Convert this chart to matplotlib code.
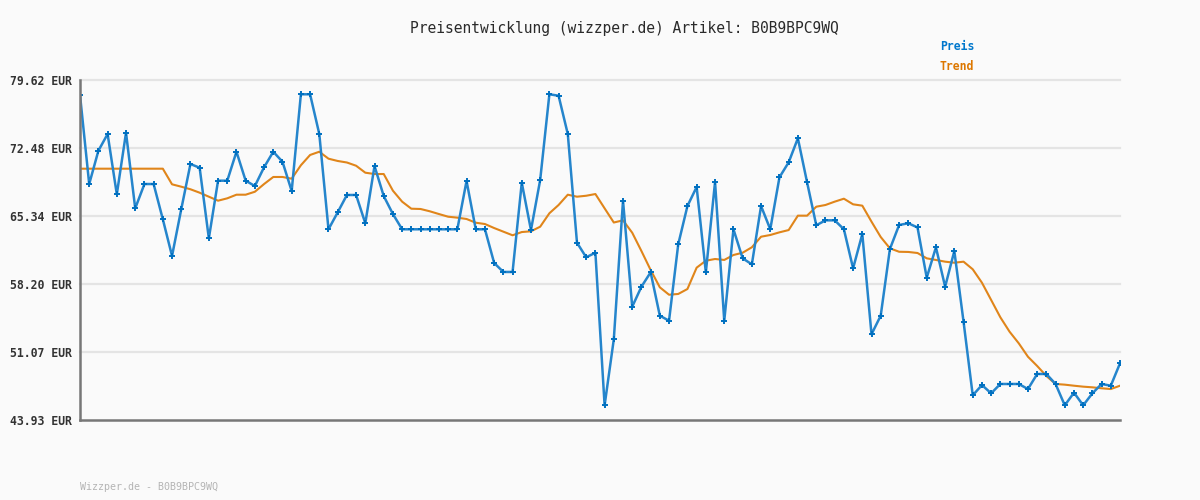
import matplotlib
matplotlib.use("Agg")
import matplotlib.pyplot as plt

title = "Preisentwicklung (wizzper.de) Artikel: B0B9BPC9WQ"
footer = "Wizzper.de - B0B9BPC9WQ"
series_names = ["Preis", "Trend"]
y_ticks = [43.93, 51.07, 58.20, 65.34, 72.48, 79.62]
y_tick_labels = ["43.93 EUR", "51.07 EUR", "58.20 EUR", "65.34 EUR", "72.48 EUR", "79.62 EUR"]

preis = [
    78.05, 68.70, 72.20, 73.95, 67.62, 74.09, 66.15, 68.70, 68.70, 65.00,
    61.15, 66.05, 70.80, 70.41, 63.00, 69.05, 69.05, 72.09, 69.05, 68.49,
    70.46, 72.09, 71.04, 67.97, 78.12, 78.12, 73.95, 63.95, 65.73, 67.55,
    67.55, 64.58, 70.59, 67.44, 65.55, 63.95, 63.95, 63.95, 63.95, 63.95,
    63.95, 63.95, 69.02, 63.95, 63.95, 60.41, 59.47, 59.47, 68.84, 63.87,
    69.12, 78.12, 77.97, 73.95, 62.54, 61.01, 61.49, 45.47, 52.40, 66.95,
    55.82, 57.92, 59.43, 54.88, 54.35, 62.37, 66.39, 68.39, 59.43, 68.91,
    54.35, 63.95, 60.90, 60.27, 66.39, 63.95, 69.41, 70.98, 73.50, 68.88,
    64.37, 64.89, 64.89, 63.95, 59.85, 63.45, 52.93, 54.88, 61.88, 64.40,
    64.58, 64.14, 58.87, 62.06, 57.92, 61.67, 54.25, 46.52, 47.60, 46.73,
    47.71, 47.71, 47.71, 47.18, 48.76, 48.76, 47.71, 45.47, 46.80, 45.47,
    46.73, 47.71, 47.53, 49.88,
]

trend = [
    70.31, 70.31, 70.31, 70.31, 70.31, 70.31, 70.31, 70.31, 70.31, 70.31,
    68.67, 68.42, 68.15, 67.79, 67.37, 66.95, 67.20, 67.58, 67.58, 67.89,
    68.70, 69.44, 69.44, 69.26, 70.67, 71.75, 72.09, 71.36, 71.12, 70.96,
    70.62, 69.89, 69.75, 69.75, 68.00, 66.85, 66.11, 66.08, 65.84, 65.55,
    65.27, 65.17, 65.03, 64.64, 64.50, 64.08, 63.70, 63.32, 63.66, 63.74,
    64.22, 65.63, 66.50, 67.58, 67.37, 67.47, 67.65, 66.15, 64.66, 64.89,
    63.59, 61.67, 59.68, 57.86, 57.08, 57.16, 57.68, 59.92, 60.65, 60.83,
    60.73, 61.25, 61.49, 62.06, 63.17, 63.35, 63.63, 63.87, 65.38, 65.38,
    66.32, 66.50, 66.85, 67.16, 66.57, 66.43, 64.75, 63.14, 61.95, 61.59,
    61.57, 61.46, 60.90, 60.73, 60.55, 60.44, 60.55, 59.75, 58.34, 56.53,
    54.71, 53.20, 51.98, 50.57, 49.60, 48.55, 47.71, 47.64, 47.53, 47.43,
    47.36, 47.26, 47.18, 47.53,
]

x = list(range(len(preis)))

bg = "#fafafa"
blue = "#2585cc"
marker_blue = "#0070c0"
orange = "#e0851a"
mono = "DejaVu Sans Mono"

fig = plt.figure(figsize=(12, 5), dpi=100, facecolor=bg)
ax = fig.add_axes([80 / 1200, 80 / 500, 1040 / 1200, 340 / 500], facecolor=bg)

ax.plot(x, trend, color=orange, lw=1.5, zorder=3, solid_joinstyle="round")
ax.plot(x, preis, color=blue, lw=1.8, zorder=4, marker="+", ms=3.8, mew=1.4,
        mec=marker_blue, solid_joinstyle="round")

ax.set_xlim(0, len(preis) - 1)
ax.set_ylim(y_ticks[0], y_ticks[-1])
ax.set_yticks(y_ticks)
ax.set_yticklabels(y_tick_labels, fontfamily=mono, fontweight="bold", fontsize=8.3, color="#333333")
ax.set_xticks([])
ax.tick_params(axis="y", length=0, pad=6)

for yv in y_ticks[1:]:
    ax.axhline(yv, color="#e4e4e4", lw=1.6, zorder=1, clip_on=False)

for side in ["top", "right"]:
    ax.spines[side].set_visible(False)
for side in ["left", "bottom"]:
    ax.spines[side].set_color("#777777")
    ax.spines[side].set_linewidth(1.8)
    ax.spines[side].set_zorder(5)

fig.text(624 / 1200, 1 - 28 / 500, title, ha="center", va="center",
         fontfamily=mono, fontsize=10.5, color="#2a2a2a")
fig.text(940 / 1200, 1 - 47 / 500, series_names[0], ha="left", va="center",
         fontfamily=mono, fontweight="bold", fontsize=8.3, color="#0077cc")
fig.text(940 / 1200, 1 - 67 / 500, series_names[1], ha="left", va="center",
         fontfamily=mono, fontweight="bold", fontsize=8.3, color="#dd7700")
fig.text(80 / 1200, 1 - 487 / 500, footer, ha="left", va="center",
         fontfamily=mono, fontsize=7.2, color="#b4b4b4")

fig.savefig("out.png", dpi=100, facecolor=bg)
